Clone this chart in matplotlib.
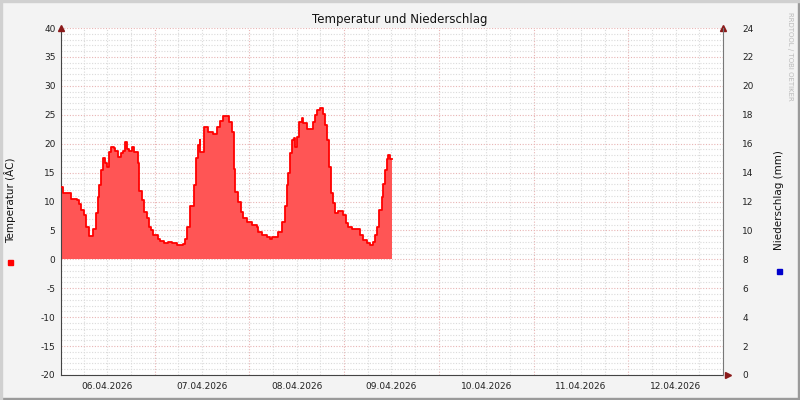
import matplotlib
matplotlib.use("Agg")
import matplotlib.pyplot as plt
from matplotlib.patches import Rectangle

plt.rcParams['axes.unicode_minus'] = False

# Stunden ab 06.04.2026 00:00 und Temperatur in Grad C
stunden = [0.5, 0.8, 2.5, 2.8, 4.3, 4.8, 5.3, 6.1, 6.6, 7.3, 8.3, 9.1, 9.6, 9.9,
           10.4, 10.9, 11.4, 11.9, 12.4, 12.9, 13.6, 14.1, 14.7, 15.4, 15.9, 16.4,
           16.9, 17.4, 18.4, 18.9, 19.7, 20.0, 20.7, 21.2, 22.0, 22.5, 23.0, 23.7,
           24.8, 25.5, 26.3, 27.3, 28.5, 29.6, 30.6, 31.3, 31.8, 32.3, 33.1, 33.9,
           34.4, 34.9, 35.4, 35.6, 36.4, 37.1, 37.6, 38.7, 39.9, 40.7, 41.4, 42.4,
           42.9, 43.7, 44.0, 44.5, 45.2, 46.0, 46.5, 47.5, 48.8, 50.0, 50.3, 51.3,
           52.5, 53.3, 53.8, 55.1, 55.3, 56.3, 57.1, 57.6, 57.9, 58.4, 58.9, 59.4,
           59.6, 60.1, 60.6, 61.4, 61.6, 62.7, 64.2, 64.7, 65.2, 65.9, 66.7, 67.2,
           67.7, 68.2, 68.7, 69.2, 69.7, 70.5, 71.7, 72.5, 73.0, 74.0, 75.3, 76.0,
           76.8, 77.8, 78.6, 79.3, 79.8, 80.3, 80.8, 81.6, 81.9, 82.4, 82.9, 83.1,
           83.6, 84.1]
temperatur = [12.5, 11.5, 11.5, 10.5, 10.3, 9.5, 8.5, 7.6, 5.6, 4.0, 5.2, 8.0, 10.8, 12.8,
              15.4, 17.5, 16.6, 15.9, 18.5, 19.5, 19.3, 18.8, 17.7, 18.3, 18.8, 20.3,
              19.1, 18.7, 19.4, 18.5, 16.6, 11.9, 10.2, 8.2, 7.2, 5.6, 5.0, 4.2,
              3.6, 3.1, 2.8, 3.0, 2.8, 2.5, 2.4, 2.7, 3.6, 5.6, 9.3, 12.8,
              17.5, 19.7, 20.6, 18.5, 22.9, 22.9, 22.0, 21.7, 22.9, 24.0, 24.8, 24.8,
              23.7, 22.0, 15.7, 11.6, 9.9, 8.2, 7.1, 6.5, 5.9, 5.6, 4.7, 4.2,
              3.9, 3.6, 3.9, 3.9, 4.7, 6.5, 9.3, 12.8, 14.9, 18.3, 20.6, 20.9,
              19.4, 21.1, 23.7, 24.4, 23.5, 22.6, 23.7, 24.9, 25.8, 26.1, 25.2, 23.2,
              20.6, 16.0, 11.4, 9.7, 8.0, 8.3, 7.6, 6.2, 5.6, 5.2, 5.2, 4.2,
              3.3, 2.8, 2.4, 3.0, 4.2, 5.6, 8.5, 10.8, 13.1, 15.4, 17.3, 18.0,
              17.3, 17.3]
tage = ["06.04.2026", "07.04.2026", "08.04.2026", "09.04.2026",
        "10.04.2026", "11.04.2026", "12.04.2026"]

fig = plt.figure(figsize=(8, 4), dpi=100, facecolor="#f3f3f3")
ax = fig.add_axes([0.07625, 0.0625, 0.8275, 0.8675], facecolor="white")

# Gitter
for h in range(6, 168, 6):
    farbe = "#e8b4b4" if h % 24 == 0 else "#dadada"
    ax.axvline(h, color=farbe, lw=0.8, ls=(0, (1, 1.5)), zorder=0)
for v in range(-20, 41):
    farbe = "#e8b4b4" if v % 5 == 0 else "#dadada"
    ax.axhline(v, color=farbe, lw=0.8, ls=(0, (1, 1.5)), zorder=0)

ax.fill_between(stunden, temperatur, 0, step="post", color="#ff5555", lw=0, zorder=2)
ax.step(stunden, temperatur, where="post", color="#ff0000", lw=1.3, zorder=3)

ax.set_xlim(0.3, 168)
ax.set_ylim(-20, 40)
ax.set_yticks(range(-20, 41, 5))
ax.set_xticks([12 + 24 * i for i in range(7)])
ax.set_xticklabels(tage)
ax.tick_params(axis="both", labelsize=6.5, length=0, colors="#222222", pad=4)
ax.tick_params(axis="x", pad=5)
for s in ["top", "right"]:
    ax.spines[s].set_visible(False)
ax.spines["left"].set_color("#444444")
ax.spines["bottom"].set_color("#444444")

ax2 = ax.twinx()
ax2.set_ylim(0, 24)
ax2.set_yticks(range(0, 25, 2))
ax2.tick_params(axis="y", labelsize=6.5, length=0, colors="#222222", pad=14)
for s in ["top", "left", "bottom"]:
    ax2.spines[s].set_visible(False)
ax2.spines["right"].set_color("#777777")

# Pfeile an den Achsen
ax.plot([0.3], [40], marker="^", color="#8b1a1a", ms=4, clip_on=False, zorder=5)
ax.plot([168], [40], marker="^", color="#8b1a1a", ms=4, clip_on=False, zorder=5)
ax.plot([169.3], [-20], marker=">", color="#8b1a1a", ms=4, clip_on=False, zorder=5)

fig.text(0.5, 0.952, "Temperatur und Niederschlag", ha="center", va="center",
         fontsize=8.5, color="#111111")
fig.text(0.013, 0.5, "Temperatur (ÂC)", rotation=90, ha="center", va="center",
         fontsize=7.5, color="#111111")
fig.text(0.974, 0.5, "Niederschlag (mm)", rotation=90, ha="center", va="center",
         fontsize=7.5, color="#111111")
fig.text(0.988, 0.97, "RRDTOOL / TOBI OETIKER", rotation=270, ha="center", va="top",
         fontsize=5, color="#bbbbbb")
fig.patches.append(Rectangle((0.010, 0.337), 0.0065, 0.013, transform=fig.transFigure,
                             color="#ff0000"))
fig.patches.append(Rectangle((0.971, 0.315), 0.0065, 0.013, transform=fig.transFigure,
                             color="#0000cc"))

# Rahmen
fig.patches.append(Rectangle((0, 0), 1, 0.006, transform=fig.transFigure, color="#9a9a9a"))
fig.patches.append(Rectangle((0.997, 0), 0.003, 1, transform=fig.transFigure, color="#9a9a9a"))
fig.patches.append(Rectangle((0, 0.995), 1, 0.005, transform=fig.transFigure, color="#d0d0d0"))
fig.patches.append(Rectangle((0, 0), 0.003, 1, transform=fig.transFigure, color="#d0d0d0"))

fig.savefig("out.png", dpi=100, facecolor=fig.get_facecolor())
